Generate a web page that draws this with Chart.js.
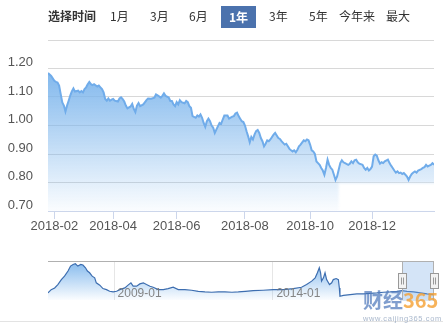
<!DOCTYPE html>
<html>
<head>
<meta charset="utf-8">
<script src="https://cdn.jsdelivr.net/npm/chart.js@4"></script>
<style>
  body { margin: 0; width: 443px; height: 325px; overflow: hidden; background: #fff; position: relative; font-family: "Noto Sans CJK SC", sans-serif; }
  canvas { position: absolute; left: 0; }
  #main { top: 0; }
  #nav { top: 255px; }
  .btn { position: absolute; top: 5px; height: 22px; line-height: 22px; font-size: 12px; color: #333; white-space: nowrap; }
  .title { font-weight: bold; }
  .on { top: 6px; width: 35px; text-align: center; background: #4b72ad; color: #fff; font-weight: bold; }
  .wm { position: absolute; left: 363px; top: 290px; font: bold 20px/20px "Noto Sans CJK SC", sans-serif; white-space: nowrap; }
  .wm2 { position: absolute; left: 363px; top: 315px; font: 7.5px/8px "Liberation Sans", sans-serif; letter-spacing: 0.6px; color: rgba(110,135,170,0.6); white-space: nowrap; }
  .rule { position: absolute; left: 0; top: 321px; width: 443px; height: 1px; background: #e3e3e3; }
</style>
</head>
<body>
<canvas id="main" width="443" height="240"></canvas>
<canvas id="nav" width="443" height="70"></canvas>

<span class="btn title" style="left:48px">选择时间</span>
<span class="btn" style="left:110px">1月</span>
<span class="btn" style="left:150px">3月</span>
<span class="btn" style="left:189px">6月</span>
<span class="btn on" style="left:221px">1年</span>
<span class="btn" style="left:269px">3年</span>
<span class="btn" style="left:309px">5年</span>
<span class="btn" style="left:339px">今年来</span>
<span class="btn" style="left:386px">最大</span>

<div class="rule"></div>
<div class="wm"><span style="color:rgba(85,125,190,0.75)">财经</span><span style="color:rgba(245,160,50,0.8)">365</span></div>
<div class="wm2">www.caijing365.com</div>

<script>
// last year, one point per sampled trading day
const tradeDay = [0,2,4,5,6,7,8,9,10,11, 12,13,14,15,16,17,19,20,21,22,
  23,24,25,26,27,28,29,31,32,33, 34,35,36,37,38,39,40,41,42,44,
  45,46,47,48,49,50,52,53,54,55, 56,57,58,60,62,63,65,67,68,69,
  71,72,73,74,76,77,78,79,80,81, 82,83,84,86,87,88,89,90,91,93,
  94,95,96,97,98,99,100,101,102,103, 104,105,107,108,109,110,111,113,114,116,
  117,118,119,120,121,122,123,124,125,126, 127,128,129,130,131,132,133,134,135,136,
  137,138,139,140,142,143,144,145,146,147, 148,149,150,151,152,153,154,155,156,157,
  158,159,161,162,163,164,165,166,167,168, 169,170,171,172,173,174,175,176,177,178,
  179,180,181,182,183,184,185,186,187,189, 190,191,192,193,194,195,196,198,199,200,
  201,202,203,204,205,206,207,208,209,210, 211,212,214,215,216,217,218,219,220,221,
  222,223,224,225,226,227,228,229,230,231, 232,233,235,236,237,238,239,240,241,242, 243];
const nav = [1.184,1.174,1.157,1.153,1.151,1.14,1.11,1.081,1.07,1.049,
  1.07,1.087,1.105,1.12,1.13,1.119,1.122,1.116,1.121,1.116,
  1.128,1.134,1.145,1.153,1.145,1.142,1.145,1.137,1.14,1.134,
  1.128,1.116,1.093,1.087,1.095,1.087,1.091,1.093,1.087,1.084,
  1.095,1.099,1.093,1.084,1.07,1.06,1.067,1.076,1.058,1.047,
  1.07,1.079,1.068,1.074,1.089,1.095,1.094,1.098,1.109,1.106,
  1.098,1.104,1.113,1.104,1.098,1.086,1.086,1.074,1.068,1.082,
  1.074,1.089,1.082,1.078,1.086,1.082,1.068,1.062,1.033,1.027,
  1.035,1.031,1.039,1.027,1.009,0.995,1.015,1.024,1.015,1.00,
  0.992,0.974,0.998,1.009,1.006,1.021,1.035,1.035,1.024,1.031,
  1.033,1.042,1.045,1.033,1.024,1.015,1.012,1.00,0.98,0.962,
  0.941,0.96,0.951,0.968,0.98,0.984,0.974,0.956,0.945,0.927,
  0.936,0.948,0.945,0.951,0.968,0.974,0.965,0.956,0.953,0.945,
  0.939,0.933,0.936,0.927,0.918,0.913,0.909,0.913,0.906,0.915,
  0.927,0.933,0.948,0.945,0.951,0.948,0.933,0.913,0.909,0.90,
  0.874,0.868,0.862,0.851,0.842,0.827,0.851,0.88,0.862,0.851,
  0.845,0.827,0.809,0.821,0.845,0.868,0.878,0.871,0.868,0.862,
  0.866,0.874,0.868,0.878,0.88,0.871,0.866,0.862,0.851,0.845,
  0.851,0.842,0.847,0.856,0.892,0.898,0.894,0.878,0.866,0.871,
  0.868,0.874,0.88,0.868,0.859,0.851,0.842,0.835,0.839,0.833,
  0.835,0.83,0.833,0.827,0.821,0.809,0.821,0.83,0.835,0.839,
  0.835,0.842,0.847,0.851,0.854,0.862,0.856,0.859,0.862,0.868, 0.862];
const tickDays = [4, 41, 81, 124, 165, 204];
const tickLabels = ['2018-02', '2018-04', '2018-06', '2018-08', '2018-10', '2018-12'];
const yTickValues = [0.7, 0.8, 0.9, 1.0, 1.1, 1.2, 1.3];

// whole history for the navigator
const histYear = [2006.92,2007.02,2007.13,2007.23,2007.34,2007.44,2007.55,2007.63,2007.71,2007.78,2007.86,2007.95,
  2008.02,2008.10,2008.16,2008.23,2008.31,2008.39,2008.44,2008.55,2008.65,2008.76,2008.86,2008.97,
  2009.08,2009.18,2009.34,2009.44,2009.53,2009.60,2009.71,2009.81,2009.92,
  2010.02,2010.13,2010.23,2010.39,2010.55,2010.70,2010.86,
  2011.02,2011.23,2011.44,2011.65,2011.86, 2012.07,2012.28,2012.49,2012.71,2012.91,
  2013.13,2013.38,2013.69, 2014.01,2014.33,2014.64,2014.90,
  2015.06,2015.22,2015.33,2015.40,2015.46,2015.50,2015.53,2015.59,2015.64,2015.69,2015.78,2015.85,2015.90,2015.99,
  2016.06,2016.09,2016.11,2016.22,2016.43,2016.64,2016.85,
  2017.06,2017.27,2017.48,2017.69,2017.90, 2018.06,2018.22,2018.43,2018.64,2018.85, 2019.06];
const histNav = [0.94,1.28,1.46,1.81,2.33,2.69,3.22,3.74,3.91,3.98,3.74,3.91,
  3.85,3.56,3.22,3.04,2.69,2.51,1.99,1.75,1.39,1.28,1.11,1.04,
  1.11,1.28,1.46,1.75,1.99,1.64,1.64,1.88,1.99,
  1.81,1.64,1.53,1.28,1.28,1.39,1.53,
  1.28,1.28,1.22,1.11,1.04, 1.01,1.04,1.04,1.01,1.04,
  1.11,1.18,1.22, 1.28,1.28,1.39,1.53,
  1.81,2.17,2.51,3.04,3.56,3.04,2.17,2.51,3.04,2.33,1.81,1.99,2.33,2.44,
  2.33,1.46,0.59,0.69,0.76,0.83,0.83,
  0.90,0.94,1.01,1.04,1.11, 1.18,1.11,1.04,0.94,0.83, 0.76];
const histTickYears = [2009, 2014];
const histTickLabels = ['2009-01', '2014-01'];
const rangeFrom = 2018.07, rangeTo = 2019.07;

// white patch over the lower right of the area (from the source picture)
const maskFromDay = 183, maskTop = 0.797;

const blueFill = (top, bottom) => (context) => {
  const {chart} = context;
  const a = chart.chartArea;
  if (!a) return 'rgba(124,181,236,0.5)';
  const g = chart.ctx.createLinearGradient(0, top(chart), 0, bottom(chart));
  g.addColorStop(0, 'rgba(124,181,236,0.95)');
  g.addColorStop(1, 'rgba(124,181,236,0.03)');
  return g;
};

const whiteMask = {
  id: 'whiteMask',
  beforeDatasetsDraw(chart) {
    const {ctx, chartArea: a, scales} = chart;
    const x0 = scales.x.getPixelForValue(maskFromDay);
    const y0 = scales.y.getPixelForValue(maskTop);
    ctx.save();
    ctx.beginPath();
    ctx.rect(a.left, a.top, a.right - a.left, a.bottom - a.top - 0.5);
    ctx.clip();
    ctx.filter = 'blur(1px)';
    ctx.fillStyle = '#fff';
    ctx.fillRect(x0, y0, a.right - x0 + 4, a.bottom - y0 + 4);
    ctx.restore();
  }
};

const chart = document.querySelector('#main').getContext('2d');

new Chart(chart, {
  type: 'line',
  data: {
    datasets: [{
      data: tradeDay.map((d, i) => ({x: d, y: nav[i]})),
      borderColor: 'rgb(112,172,234)',
      borderWidth: 2,
      pointRadius: 0,
      fill: 'start',
      backgroundColor: blueFill(c => c.scales.y.getPixelForValue(Math.max(...nav)), c => c.chartArea.bottom)
    }]
  },
  options: {
    responsive: false,
    animation: false,
    layout: {padding: {top: 40, right: 9}},
    plugins: {
      legend: {display: false},
      tooltip: {enabled: false},
      filler: {drawTime: 'beforeDatasetsDraw'}
    },
    scales: {
      x: {
        type: 'linear',
        min: 0,
        max: 243,
        afterBuildTicks: s => { s.ticks = tickDays.map(v => ({value: v})); },
        afterFit: s => { s.height = 29; },
        ticks: {
          autoSkip: false,
          maxRotation: 0,
          padding: 0,
          color: '#555',
          font: {family: 'Liberation Sans', size: 13},
          callback: v => tickLabels[tickDays.indexOf(v)]
        },
        grid: {drawOnChartArea: false, color: '#ccd6eb', tickLength: 8},
        border: {color: '#ccd6eb'}
      },
      y: {
        min: 0.7,
        max: 1.3,
        afterBuildTicks: s => { s.ticks = yTickValues.map(v => ({value: v})); },
        afterFit: s => { s.width = 48; },
        ticks: {
          padding: 15,
          labelOffset: -6,
          color: '#555',
          font: {family: 'Liberation Sans', size: 13},
          callback: v => v > 1.25 ? '' : v.toFixed(2)
        },
        grid: {color: '#d8d8d8', drawTicks: false},
        border: {display: false}
      }
    }
  },
  plugins: [whiteMask]
});

// navigator: labels inside the plot, selected range, handles
const navFrame = {
  id: 'navFrame',
  afterDatasetsDraw(c) {
    const {ctx, chartArea: a, scales: {x}} = c;
    ctx.save();
    ctx.font = '12px "Liberation Sans"';
    ctx.fillStyle = 'rgba(120,120,120,0.9)';
    ctx.textBaseline = 'middle';
    histTickYears.forEach((yr, i) => ctx.fillText(histTickLabels[i], x.getPixelForValue(yr) + 3.5, a.bottom - 6));

    const x0 = x.getPixelForValue(rangeFrom), x1 = x.getPixelForValue(rangeTo);
    ctx.fillStyle = 'rgba(120,170,230,0.32)';
    ctx.fillRect(x0, a.top, x1 - x0, a.bottom - a.top + 1);

    ctx.strokeStyle = '#b0b0b0';
    ctx.lineWidth = 1;
    ctx.beginPath();
    ctx.moveTo(a.left, a.top + 0.5); ctx.lineTo(a.right, a.top + 0.5);
    ctx.moveTo(Math.round(x0) + 0.5, a.top); ctx.lineTo(Math.round(x0) + 0.5, a.bottom);
    ctx.moveTo(Math.round(x1) - 0.5, a.top); ctx.lineTo(Math.round(x1) - 0.5, a.bottom);
    ctx.stroke();

    [x0, x1].forEach(px => {
      const hx = Math.round(px - 4) + 0.5, hy = a.top + 12.5;
      ctx.fillStyle = '#f2f2f2';
      ctx.fillRect(hx, hy, 8, 15);
      ctx.strokeStyle = '#999';
      ctx.strokeRect(hx, hy, 8, 15);
      ctx.beginPath();
      ctx.moveTo(hx + 3, hy + 4); ctx.lineTo(hx + 3, hy + 11);
      ctx.moveTo(hx + 5, hy + 4); ctx.lineTo(hx + 5, hy + 11);
      ctx.stroke();
    });
    ctx.restore();
  }
};

const navCtx = document.querySelector('#nav').getContext('2d');

new Chart(navCtx, {
  type: 'line',
  data: {
    datasets: [{
      data: histYear.map((t, i) => ({x: t, y: histNav[i]})),
      borderColor: '#3d6eb0',
      borderWidth: 1.2,
      pointRadius: 0,
      fill: 'start',
      backgroundColor: blueFill(c => c.chartArea.top, c => c.chartArea.bottom)
    }]
  },
  options: {
    responsive: false,
    animation: false,
    layout: {padding: {left: 48, right: 9, top: 6, bottom: 25}},
    plugins: {legend: {display: false}, tooltip: {enabled: false}},
    scales: {
      x: {
        type: 'linear',
        min: 2006.92,
        max: 2019.07,
        afterBuildTicks: s => { s.ticks = histTickYears.map(v => ({value: v})); },
        afterFit: s => { s.height = 0; },
        ticks: {display: false},
        grid: {color: '#e6e6e6', drawTicks: false},
        border: {display: false}
      },
      y: {display: false, min: 0.2, max: 4.27}
    }
  },
  plugins: [navFrame]
});
</script>
</body>
</html>
